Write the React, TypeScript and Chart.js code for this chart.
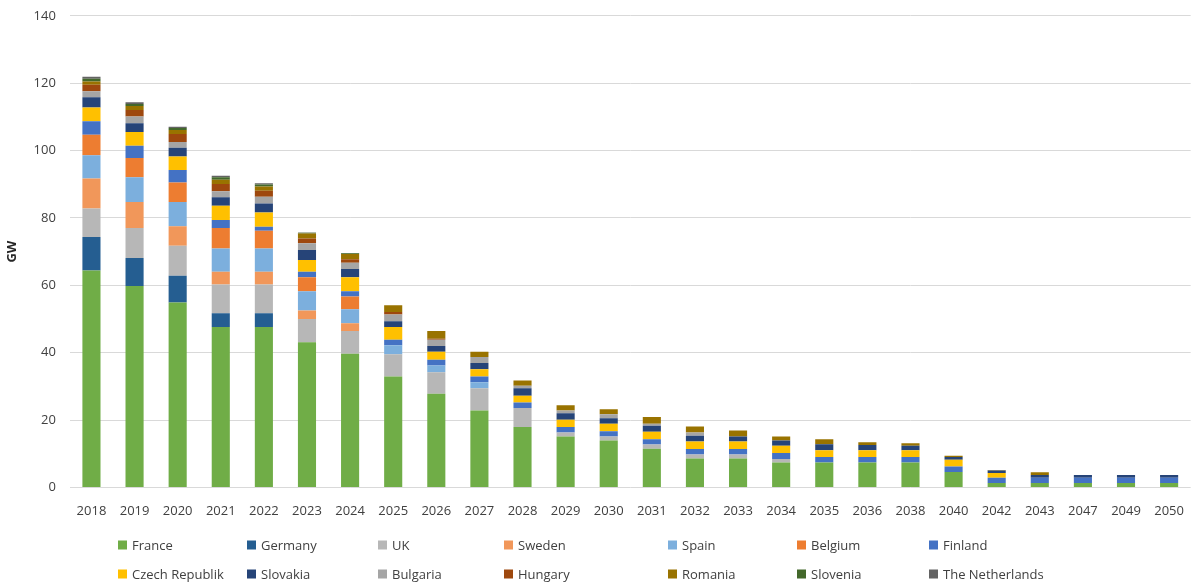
import React, { useEffect, useRef } from "react";
import { Chart, registerables } from "chart.js";

Chart.register(...registerables);

const years = ["2018", "2019", "2020", "2021", "2022", "2023", "2024", "2025", "2026", "2027", "2028", "2029", "2030", "2031", "2032", "2033", "2034", "2035", "2036", "2038", "2040", "2042", "2043", "2047", "2049", "2050"];

const france = [64.4, 59.8, 54.9, 47.6, 47.6, 43.1, 39.7, 32.9, 27.8, 22.8, 17.9, 15.1, 13.9, 11.5, 8.6, 8.6, 7.4, 7.4, 7.4, 7.4, 4.6, 1.3, 1.3, 1.3, 1.3, 1.3];
const germany = [9.9, 8.3, 7.9, 4.1, 4.1, 0, 0, 0, 0, 0, 0, 0, 0, 0, 0, 0, 0, 0, 0, 0, 0, 0, 0, 0, 0, 0];
const uk = [8.5, 8.9, 8.9, 8.5, 8.5, 6.9, 6.7, 6.6, 6.4, 6.6, 5.7, 1.2, 1.2, 1.2, 1.2, 1.2, 1.0, 0, 0, 0, 0, 0, 0, 0, 0, 0];
const sweden = [8.9, 7.7, 5.8, 3.8, 3.8, 2.5, 2.3, 0, 0, 0, 0, 0, 0, 0, 0, 0, 0, 0, 0, 0, 0, 0, 0, 0, 0, 0];
const spain = [6.9, 7.4, 7.2, 6.9, 6.9, 5.7, 4.2, 2.7, 2.0, 1.8, 0, 0, 0, 0, 0, 0, 0, 0, 0, 0, 0, 0, 0, 0, 0, 0];
const belgium = [6.1, 5.7, 5.8, 6.1, 5.3, 4.2, 3.8, 0, 0, 0, 0, 0, 0, 0, 0, 0, 0, 0, 0, 0, 0, 0, 0, 0, 0, 0];
const finland = [4.0, 3.6, 3.7, 2.4, 1.2, 1.6, 1.5, 1.6, 1.7, 1.7, 1.6, 1.6, 1.6, 1.6, 1.6, 1.6, 1.8, 1.6, 1.6, 1.6, 1.6, 1.6, 1.6, 1.6, 1.6, 1.6];
const czech = [4.1, 4.1, 4.0, 4.2, 4.2, 3.5, 4.2, 3.8, 2.4, 2.2, 2.0, 2.2, 2.2, 2.2, 2.2, 2.2, 2.2, 2.0, 2.0, 2.0, 2.0, 1.4, 0, 0, 0, 0];
const slovakia = [3.0, 2.6, 2.6, 2.5, 2.7, 3.0, 2.4, 1.7, 1.7, 1.8, 2.2, 1.9, 1.6, 1.8, 1.7, 1.5, 1.5, 1.8, 1.6, 1.4, 0.8, 0.7, 0.8, 0.8, 0.8, 0.8];
const bulgaria = [1.8, 2.0, 1.7, 1.8, 2.0, 2.0, 1.9, 2.0, 1.8, 1.8, 0.8, 0.8, 1.2, 0.6, 1.0, 0, 0, 0, 0, 0, 0, 0, 0, 0, 0, 0];
const hungary = [1.9, 1.9, 2.4, 2.2, 1.8, 1.4, 1.0, 0.8, 0.3, 0, 0, 0, 0, 0, 0, 0, 0, 0, 0, 0, 0, 0, 0, 0, 0, 0];
const romania = [1.0, 1.2, 1.2, 1.2, 1.2, 1.5, 1.6, 2.0, 2.3, 1.6, 1.5, 1.6, 1.5, 2.0, 1.8, 1.8, 1.2, 1.5, 0.8, 0.7, 0.4, 0.2, 0.8, 0, 0, 0];
const slovenia = [0.8, 0.6, 0.6, 0.8, 0.6, 0.2, 0.2, 0, 0, 0, 0, 0, 0, 0, 0, 0, 0, 0, 0, 0, 0, 0, 0, 0, 0, 0];
const netherlands = [0.6, 0.5, 0.4, 0.4, 0.4, 0.1, 0.1, 0, 0, 0, 0, 0, 0, 0, 0, 0, 0, 0, 0, 0, 0, 0, 0, 0, 0, 0];

const seriesNames = ["France", "Germany", "UK", "Sweden", "Spain", "Belgium", "Finland", "Czech Republik", "Slovakia", "Bulgaria", "Hungary", "Romania", "Slovenia", "The Netherlands"];
const seriesValues = [france, germany, uk, sweden, spain, belgium, finland, czech, slovakia, bulgaria, hungary, romania, slovenia, netherlands];
const seriesColors = ["#70AD47", "#255E91", "#B7B7B7", "#F1975A", "#7CAFDD", "#ED7D31", "#4472C4", "#FFC000", "#264478", "#A5A5A5", "#9E480E", "#997300", "#43682B", "#636363"];

const yTicks = [0, 20, 40, 60, 80, 100, 120, 140];

const FONT = '"Open Sans", "DejaVu Sans", sans-serif';

const gridLegend = {
  id: "gridLegend",
  afterDraw(chart: any, _args: any, opts: any) {
    const ctx = chart.ctx;
    ctx.save();
    ctx.font = `13px ${FONT}`;
    ctx.textBaseline = "middle";
    ctx.textAlign = "left";
    chart.data.datasets.forEach((ds: any, i: number) => {
      const col = i % opts.columns.length;
      const row = Math.floor(i / opts.columns.length);
      const x = opts.columns[col];
      const y = opts.rows[row];
      ctx.fillStyle = ds.backgroundColor;
      ctx.fillRect(x, y - 4.5, 9, 9);
      ctx.fillStyle = "#404040";
      ctx.fillText(ds.label, x + 14, y + 1);
    });
    ctx.restore();
  },
};

export default function App() {
  const ref = useRef<HTMLCanvasElement | null>(null);

  useEffect(() => {
    if (!ref.current) return;
    const chart = new Chart(ref.current, {
      type: "bar",
      data: {
        labels: years,
        datasets: seriesNames.map((name, i) => ({
          label: name,
          data: seriesValues[i],
          backgroundColor: seriesColors[i],
          borderWidth: 0,
          barPercentage: 0.42,
          categoryPercentage: 1,
        })),
      },
      options: {
        responsive: false,
        animation: false,
        devicePixelRatio: 1,
        layout: { padding: { top: 1, right: 1, bottom: 58, left: 0 } },
        plugins: {
          legend: { display: false },
          tooltip: { enabled: false },
          gridLegend: { columns: [118, 247, 378, 504, 668, 797, 929], rows: [551, 580] },
        } as any,
        scales: {
          x: {
            stacked: true,
            grid: { display: false },
            border: { display: false },
            ticks: { color: "#404040", font: { family: FONT, size: 13 }, padding: 8, maxRotation: 0, autoSkip: false },
          },
          y: {
            stacked: true,
            min: 0,
            max: 140,
            afterBuildTicks: (axis: any) => {
              axis.ticks = yTicks.map((v) => ({ value: v }));
            },
            grid: { color: "#D9D9D9", lineWidth: 1, drawTicks: false },
            border: { display: false },
            ticks: { color: "#404040", font: { family: FONT, size: 13 }, padding: 14 },
            title: {
              display: true,
              text: "GW",
              color: "#262626",
              font: { family: FONT, size: 13, weight: "bold" },
              padding: { top: 4, bottom: 0 },
            },
          },
        },
      },
      plugins: [gridLegend],
    });
    return () => chart.destroy();
  }, []);

  return (
    <div style={{ position: "absolute", left: 0, top: 0, width: 1192, height: 585, overflow: "hidden", background: "#fff" }}>
      <canvas ref={ref} width={1192} height={591} style={{ position: "absolute", left: 0, top: -6 }} />
    </div>
  );
}
